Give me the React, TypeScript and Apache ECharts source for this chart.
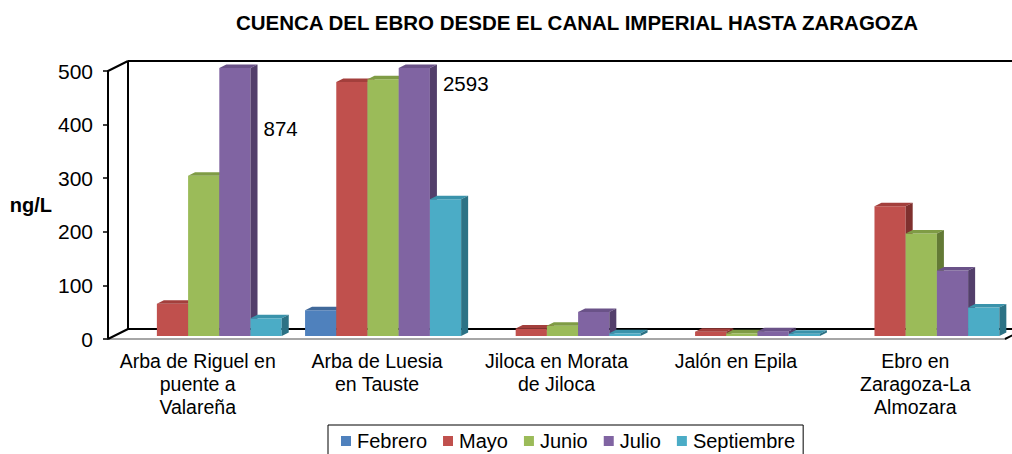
import React, { useEffect, useRef } from "react";
import * as echarts from "echarts";

const categories = [
  "Arba de Riguel en\npuente a\nValareña",
  "Arba de Luesia\nen Tauste",
  "Jiloca en Morata\nde Jiloca",
  "Jalón en Epila",
  "Ebro en\nZaragoza-La\nAlmozara",
];
const months = ["Febrero", "Mayo", "Junio", "Julio", "Septiembre"];
const febrero: (number | null)[] = [null, 48, null, null, null];
const mayo: (number | null)[] = [60, 474, 14, 8, 242];
const junio: (number | null)[] = [299, 479, 19, 5, 191];
const julio: (number | null)[] = [874, 2593, 45, 9, 122];
const septiembre: (number | null)[] = [33, 255, 5, 4, 53];
const yTicks = [0, 100, 200, 300, 400, 500];

const seriesValues = [febrero, mayo, junio, julio, septiembre];
const palette = [
  { front: "#4F81BD", top: "#41699a", side: "#34537a" },
  { front: "#C0504D", top: "#a33f3c", side: "#7f302e" },
  { front: "#9BBB59", top: "#7f9c45", side: "#637a35" },
  { front: "#8064A2", top: "#6a5288", side: "#533f6b" },
  { front: "#4BACC6", top: "#3a93ab", side: "#2c7285" },
];

const FONT = "'Liberation Sans', Arial, sans-serif";
const Y_MAX = yTicks[yTicks.length - 1];
const Y_INT = yTicks[1] - yTicks[0];
// depth of the floor and of the bars (pseudo 3D)
const FLOOR_DX = 20;
const FLOOR_DY = 10;
const BAR_OFF_X = 6;
const BAR_OFF_Y = 3;
const BAR_DX = 7;
const BAR_DY = 3.5;
const BAR_FRAC = 0.174;
// vertical drop of the overflow labels below the clipped bar top
const OVERFLOW_DROP: Record<number, number> = { 0: 60, 1: 15 };

function barRenderer(si: number) {
  const c = palette[si];
  return (params: any, api: any) => {
    const raw = api.value(1);
    if (raw == null || isNaN(raw)) return null;
    const idx = api.value(0);
    const v = Math.min(raw, Y_MAX);
    const base = api.coord([idx, 0]);
    const top = api.coord([idx, v]);
    const band = api.size([1, 0])[0];
    const bw = band * BAR_FRAC;
    const x0 = base[0] - 2.5 * bw + si * bw + BAR_OFF_X;
    const x1 = x0 + bw;
    const yb = base[1] - BAR_OFF_Y;
    const yt = top[1] - BAR_OFF_Y;
    const children: any[] = [
      {
        type: "rect",
        shape: { x: x0, y: yt, width: bw, height: Math.max(yb - yt, 0) },
        style: { fill: c.front },
      },
      {
        type: "polygon",
        shape: {
          points: [
            [x0, yt],
            [x1, yt],
            [x1 + BAR_DX, yt - BAR_DY],
            [x0 + BAR_DX, yt - BAR_DY],
          ],
        },
        style: { fill: c.top },
      },
      {
        type: "polygon",
        shape: {
          points: [
            [x1, yt],
            [x1 + BAR_DX, yt - BAR_DY],
            [x1 + BAR_DX, yb - BAR_DY],
            [x1, yb],
          ],
        },
        style: { fill: c.side },
      },
    ];
    if (raw > Y_MAX) {
      children.push({
        type: "text",
        style: {
          text: String(raw),
          x: x1 + BAR_DX + 6,
          y: yt + (OVERFLOW_DROP[idx] ?? 15),
          fill: "#000",
          font: `20.5px ${FONT}`,
          textAlign: "left",
          textVerticalAlign: "middle",
        },
      });
    }
    return { type: "group", children };
  };
}

function frameRenderer(params: any) {
  const { x, y, width: w, height: h } = params.coordSys;
  const st = { stroke: "#000", lineWidth: 2 };
  const L = (x1: number, y1: number, x2: number, y2: number, s: any = st) => ({
    type: "line",
    shape: { x1, y1, x2, y2 },
    style: s,
  });
  const bx = x + FLOOR_DX;
  const by = y - FLOOR_DY;
  const bb = y + h - FLOOR_DY;
  return {
    type: "group",
    children: [
      L(x, y, bx, by),
      L(x, y + h, bx, bb),
      L(bx, by, bx, bb),
      L(bx, by, bx + w, by),
      L(bx, bb, bx + w, bb),
      L(x + w, y + h, bx + w, bb),
    ],
  };
}

export default function App() {
  const ref = useRef<HTMLDivElement>(null);
  useEffect(() => {
    if (!ref.current) return;
    const chart = echarts.init(ref.current, undefined, { renderer: "svg" });
    const series: any[] = [
      {
        type: "custom",
        name: "frame",
        z: 1,
        silent: true,
        renderItem: frameRenderer,
        data: [[0, 0]],
        encode: { x: 0, y: 1 },
      },
    ];
    months.forEach((m, si) => {
      const data: any[] = [];
      seriesValues[si].forEach((v, i) => {
        if (v != null) data.push([i, v]);
      });
      series.push({
        type: "custom",
        name: m,
        z: 2,
        renderItem: barRenderer(si),
        itemStyle: { color: palette[si].front },
        encode: { x: 0, y: 1 },
        data,
      });
    });
    chart.setOption({
      animation: false,
      backgroundColor: "#fff",
      title: {
        text: "CUENCA DEL EBRO DESDE EL CANAL IMPERIAL HASTA ZARAGOZA",
        left: 572,
        textAlign: "center",
        top: 7,
        textStyle: {
          fontFamily: FONT,
          fontWeight: "bold",
          fontSize: 20.5,
          color: "#000",
        },
      },
      legend: {
        data: months,
        left: 328,
        top: 425,
        padding: [6, 8, 6, 13],
        itemGap: 16,
        itemWidth: 10,
        itemHeight: 10,
        icon: "rect",
        borderColor: "#000",
        borderWidth: 1,
        borderRadius: 0,
        textStyle: { fontFamily: FONT, fontSize: 20, color: "#000", padding: [0, 0, 0, 1] },
      },
      grid: { left: 108, right: 7, top: 71, bottom: 115, containLabel: false },
      xAxis: {
        type: "category",
        data: categories,
        axisLine: { lineStyle: { color: "#a6a6a6", width: 2 } },
        axisTick: { length: 5, lineStyle: { color: "#bfbfbf" } },
        axisLabel: {
          interval: 0,
          margin: 10,
          fontFamily: FONT,
          fontSize: 19.5,
          lineHeight: 23,
          color: "#000",
        },
      },
      yAxis: {
        type: "value",
        min: yTicks[0],
        max: Y_MAX,
        interval: Y_INT,
        name: "ng/L",
        nameLocation: "middle",
        nameRotate: 0,
        nameGap: 51,
        nameTextStyle: {
          fontFamily: FONT,
          fontWeight: "bold",
          fontSize: 20,
          color: "#000",
        },
        axisLine: { show: true, lineStyle: { color: "#000", width: 2 } },
        axisTick: { show: true, length: 5, lineStyle: { color: "#000", width: 1.5 } },
        splitLine: { show: false },
        axisLabel: {
          margin: 15,
          fontFamily: FONT,
          fontSize: 21,
          color: "#000",
        },
      },
      series,
    });
    return () => chart.dispose();
  }, []);
  return (
    <div
      ref={ref}
      style={{ position: "fixed", left: 0, top: 0, width: 1012, height: 454 }}
    />
  );
}
